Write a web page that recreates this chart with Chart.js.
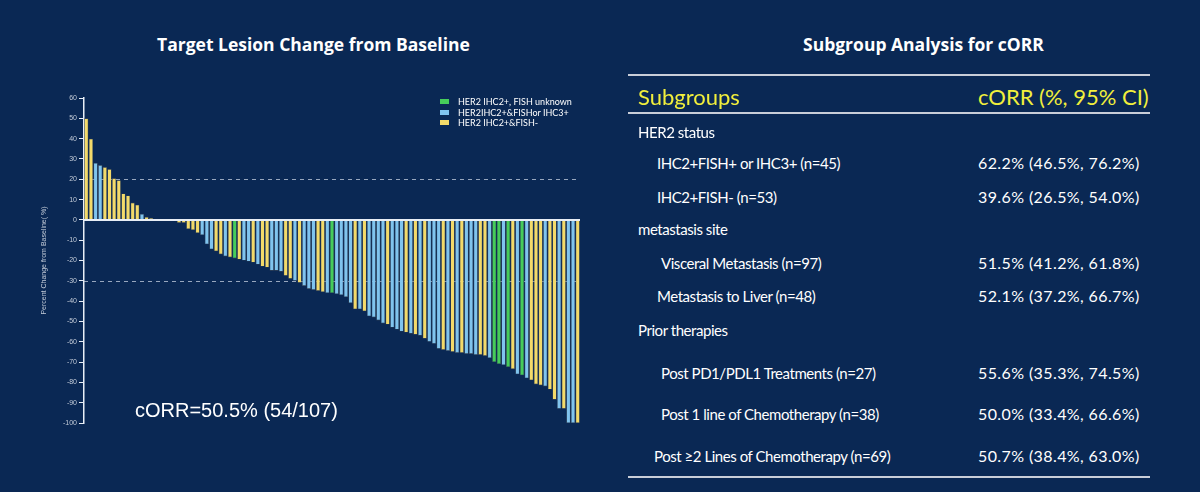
<!DOCTYPE html>
<html>
<head>
<meta charset="utf-8">
<script src="https://cdn.jsdelivr.net/npm/chart.js@4/dist/chart.umd.min.js"></script>
<style>
  html, body { margin: 0; padding: 0; }
  body { width: 1200px; height: 492px; background: #0a2854; position: relative; overflow: hidden; font-family: Lato, "Open Sans", sans-serif; color: #fff; }
  #wrap { position: absolute; left: 0; top: 0; width: 600px; height: 492px; }
  .title { position: absolute; top: 32px; font-family: "Open Sans", sans-serif; font-weight: bold; font-size: 17.5px; line-height: 24px; white-space: nowrap; }
  #legend { position: absolute; left: 440px; top: 97px; font-size: 9px; line-height: 10.5px; }
  #legend div { white-space: nowrap; }
  #legend span { display: inline-block; width: 9px; height: 5px; margin-right: 9px; vertical-align: 1px; }
  #corr { position: absolute; left: 135px; top: 398px; font-family: "Liberation Sans", Arial, sans-serif; font-size: 20px; line-height: 24px; white-space: nowrap; }
  .rule { position: absolute; left: 628px; width: 522px; height: 2px; background: #c9ced8; }
  .cell { position: absolute; white-space: nowrap; font-size: 15px; line-height: 20px; letter-spacing: -0.45px; }
  .val { font-size: 16px; letter-spacing: 0.4px; }
  .head { color: #f1ef3c; font-size: 22px; line-height: 26px; letter-spacing: 0; }
</style>
</head>
<body>
<div class="title" style="left:157px">Target Lesion Change from Baseline</div>
<div class="title" style="left:803px">Subgroup Analysis for cORR</div>
<div id="wrap"><canvas id="waterfall"></canvas></div>
<div id="legend"></div>
<div id="corr">cORR=50.5% (54/107)</div>
<div id="table"></div>
<script>
// best % change of target lesions, one bar per patient (sorted)
const changes = [50, 40, 28, 27, 26, 25, 20.5, 19.5, 13, 12, 8.5, 7.5, 3, 1.5, 1, 0.5, 0.4, 0.4, 0.4, -0.5,
  -1.5, -1.5, -4.5, -5, -6.5, -7.5, -12, -14.5, -15.5, -17, -18, -18.5, -19, -19.5, -20, -20.5, -21, -22, -23, -23.5,
  -25, -25, -25.5, -27.5, -29, -30, -31, -32.5, -34, -34.5, -35, -35.5, -36, -36, -36.5, -37, -38, -41, -44, -44,
  -45, -47.5, -48, -49.5, -51, -51.5, -53, -54, -55, -55.5, -56, -56.5, -57, -58.5, -60, -61, -63.5, -64, -64.5, -65,
  -65.5, -65.5, -66, -66, -66.5, -66.5, -67, -68, -70, -71, -71.5, -72.5, -73.5, -76, -76.5, -78, -79, -81, -81.5, -82,
  -83.5, -88.5, -93, -93, -100, -100, -100];
const groups = ["Y", "Y", "B", "B", "Y", "Y", "Y", "Y", "Y", "Y", "Y", "Y", "B", "Y", "Y", "Y", "G", "G", "G", "B",
  "Y", "Y", "Y", "Y", "Y", "B", "B", "B", "Y", "Y", "B", "Y", "G", "Y", "B", "B", "Y", "B", "Y", "Y",
  "B", "B", "B", "Y", "Y", "B", "Y", "B", "B", "B", "Y", "Y", "B", "G", "B", "B", "B", "B", "Y", "B",
  "Y", "B", "B", "B", "B", "Y", "B", "B", "B", "Y", "B", "Y", "B", "Y", "B", "B", "B", "Y", "B", "Y",
  "B", "Y", "B", "B", "B", "Y", "Y", "B", "G", "G", "B", "G", "Y", "B", "G", "B", "Y", "Y", "Y", "B",
  "Y", "Y", "B", "Y", "B", "B", "Y"];
const groupCodes = ["G", "B", "Y"];
const groupNames = ["HER2 IHC2+, FISH unknown", "HER2IHC2+&FISHor IHC3+", "HER2 IHC2+&FISH-"];
const groupColors = ["#46cc5a", "#80c4ee", "#f3da6a"];
const yTicks = { min: -100, max: 60, step: 10 };
const refLines = [20, -30];

// subgroup table
const subgroups = ["HER2 status", "IHC2+FISH+ or IHC3+ (n=45)", "IHC2+FISH- (n=53)", "metastasis site",
  "Visceral Metastasis (n=97)", "Metastasis to Liver (n=48)", "Prior therapies", "Post PD1/PDL1 Treatments (n=27)",
  "Post 1 line of Chemotherapy (n=38)", "Post \u22652 Lines of Chemotherapy (n=69)"];
const corrValues = ["", "62.2% (46.5%, 76.2%)", "39.6% (26.5%, 54.0%)", "",
  "51.5% (41.2%, 61.8%)", "52.1% (37.2%, 66.7%)", "", "55.6% (35.3%, 74.5%)",
  "50.0% (33.4%, 66.6%)", "50.7% (38.4%, 63.0%)"];
const rowY = [132, 163, 197, 229, 263, 296, 330, 373, 414, 456];
const rowX = [638, 657, 657, 638, 661, 657, 638, 661, 661, 654];

const patients = changes.map((_, i) => "P" + (i + 1));

var refLinePlugin = {
  id: "refLines",
  beforeDatasetsDraw(chart) {
    const c = chart.ctx, area = chart.chartArea, y = chart.scales.y;
    c.save();
    c.strokeStyle = "rgba(200,210,225,0.75)";
    c.lineWidth = 1;
    c.setLineDash([4, 4]);
    refLines.forEach(v => {
      const py = Math.round(y.getPixelForValue(v)) + 0.5;
      c.beginPath();
      c.moveTo(area.left, py);
      c.lineTo(area.right, py);
      c.stroke();
    });
    c.restore();
  },
  afterDatasetsDraw(chart) {
    // zero baseline over bar tops
    const c = chart.ctx, area = chart.chartArea, y = chart.scales.y;
    const py = y.getPixelForValue(0);
    c.save();
    c.strokeStyle = "#e8eef6";
    c.lineWidth = 2;
    c.beginPath();
    c.moveTo(area.left, py);
    c.lineTo(area.right, py);
    c.stroke();
    c.restore();
  }
};

var ctx = document.getElementById("waterfall");
var chart = new Chart(ctx, {
  type: "bar",
  data: {
    labels: patients,
    datasets: groupCodes.map((g, k) => ({
      label: groupNames[k],
      data: changes.map((v, i) => (groups[i] === g ? v : null)),
      backgroundColor: groupColors[k],
      borderColor: "rgba(70,80,90,0.9)",
      borderWidth: 0.6,
      barPercentage: 0.92,
      categoryPercentage: 1,
    })),
  },
  options: {
    responsive: true,
    maintainAspectRatio: false,
    animation: false,
    layout: { padding: { left: 40, right: 20, top: 98, bottom: 69 } },
    plugins: { legend: { display: false }, tooltip: { enabled: false } },
    scales: {
      x: { display: false, stacked: true },
      y: {
        stacked: true,
        min: yTicks.min,
        max: yTicks.max,
        afterFit: s => { s.width = 44; },
        ticks: { stepSize: yTicks.step, color: "#c3cbd8", font: { size: 7, family: "Liberation Sans" }, padding: 2 },
        grid: { drawOnChartArea: false, drawTicks: true, tickLength: 5, tickColor: "#e8eef6", tickWidth: 1 },
        border: { display: true, color: "#e8eef6", width: 1.5 },
        title: { display: true, text: "Percent Change from Baseline( %)", color: "#c3cbd8", font: { size: 7, family: "Liberation Sans" }, padding: 0 },
      },
    },
  },
  plugins: [refLinePlugin],
});

// legend
document.getElementById("legend").innerHTML = groupNames
  .map((n, k) => '<div><span style="background:' + groupColors[k] + '"></span>' + n + "</div>")
  .join("");

// table
var html = '<div class="rule" style="top:74px"></div><div class="rule" style="top:112px"></div><div class="rule" style="top:476px"></div>';
html += '<div class="cell head" style="left:638px;top:84px">Subgroups</div>';
html += '<div class="cell head" style="left:978px;top:84px">cORR (%, 95% CI)</div>';
subgroups.forEach((s, i) => {
  html += '<div class="cell" style="left:' + rowX[i] + 'px;top:' + (rowY[i] - 10) + 'px">' + s + "</div>";
  if (corrValues[i]) html += '<div class="cell val" style="left:978px;top:' + (rowY[i] - 10) + 'px">' + corrValues[i] + "</div>";
});
document.getElementById("table").innerHTML = html;
</script>
</body>
</html>
